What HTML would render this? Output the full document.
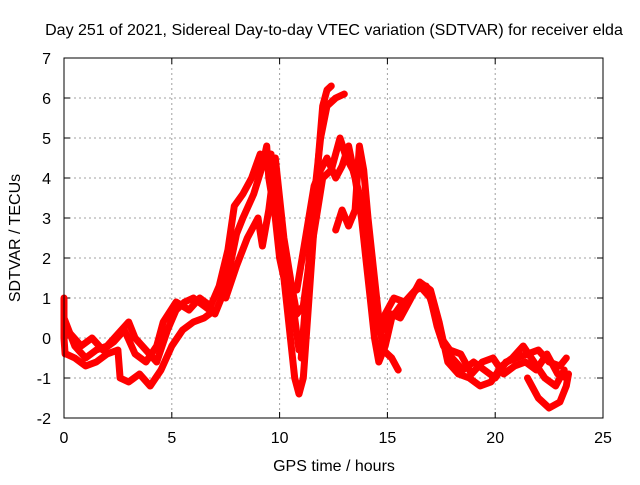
<!DOCTYPE html>
<html><head><meta charset="utf-8"><style>
body{margin:0;background:#fff}
svg text{font-family:"Liberation Sans",sans-serif;font-size:16px;fill:#000}
</style></head><body>
<svg width="640" height="480" xmlns="http://www.w3.org/2000/svg">
<text x="334" y="35" text-anchor="middle">Day 251 of 2021, Sidereal Day-to-day VTEC variation (SDTVAR) for receiver elda</text>
<text x="334" y="471" text-anchor="middle">GPS time / hours</text>
<text transform="translate(20,238) rotate(-90)" text-anchor="middle">SDTVAR / TECUs</text>
<g id="grid"></g>
<g id="ticks"></g>
<g id="series"></g>
<rect x="64" y="58" width="539" height="360" fill="none" stroke="#000"/>
</svg>
<script>
const xTicks=[0,5,10,15,20,25];
const yTicks=[-2,-1,0,1,2,3,4,5,6,7];
const track1=[[0,0.5],[0.5,-0.2],[1,-0.5],[1.5,-0.3],[2,-0.2],[2.5,0.1],[3,0.4],[3.3,0],[3.8,-0.3],[4.3,-0.6],[4.8,0.2],[5.2,0.7],[5.6,0.9],[6,1.0],[6.5,0.8],[7,0.6],[7.3,1.0],[7.7,1.8],[8,2.6],[8.3,3.0],[8.8,3.6],[9.2,4.3],[9.4,4.8],[9.5,4.0],[9.8,3.0],[10,2.0],[10.2,1.5],[10.5,0.0],[10.7,-1.0],[10.9,-1.4],[11.1,-1.0],[11.3,0.5],[11.6,2.8],[11.8,4.5],[12,5.8],[12.2,6.2],[12.4,6.3]];
const track2=[[11.0,-0.5],[11.3,1.5],[11.6,3.5],[11.9,5.0],[12.2,5.8],[12.6,6.0],[13,6.1]];
const track3=[[10.8,1.2],[11.2,2.5],[11.6,3.8],[11.9,4.2],[12.2,4.5],[12.6,4.0],[12.9,4.3],[13.2,4.8],[13.5,4.0],[13.8,3.0],[14,2.0],[14.2,1.0],[14.4,0.0],[14.6,-0.6],[14.9,-0.2],[15.2,0.5],[15.6,0.8],[16,1.0],[16.5,1.3],[17,1.0],[17.3,0.3],[17.6,-0.2],[18,-0.5],[18.5,-0.8],[19,-0.6],[19.5,-0.8],[20,-1.0],[20.5,-0.6],[21,-0.5],[21.5,-0.4],[22,-0.3],[22.5,-0.6],[23,-0.7],[23.3,-0.5]];
const track4=[[12.6,2.7],[12.9,3.2],[13.2,2.8],[13.5,3.2],[13.7,4.8],[13.9,4.2],[14.1,3.0],[14.3,2.0],[14.6,0.5],[14.8,-0.3],[15.2,-0.5],[15.5,-0.8]];
const track5=[[14.8,0.2],[15.2,0.6],[15.6,0.5],[16,0.9],[16.5,1.4],[17,1.2],[17.4,0.4],[17.8,-0.6],[18.3,-0.9],[18.8,-1.0],[19.3,-1.2],[19.8,-1.1],[20.3,-0.7],[20.8,-0.5],[21.3,-0.2],[21.8,-0.6],[22.3,-1.0],[22.8,-1.2],[23.2,-0.8]];
const track6=[[21.5,-1.0],[22,-1.5],[22.5,-1.75],[23,-1.6],[23.3,-1.2],[23.4,-0.9]];
const track7=[[0.1,-0.4],[0.5,-0.5],[1,-0.7],[1.5,-0.6],[2,-0.4],[2.5,-0.3],[2.6,-1.0],[3,-1.1],[3.5,-0.9],[4,-1.2],[4.5,-0.8],[5,-0.2],[5.5,0.2],[6,0.4],[6.5,0.5],[7,0.7]];
const track8=[[7.5,1.0],[8,1.8],[8.5,2.5],[9,3.0],[9.2,2.3],[9.5,3.2],[9.8,4.5],[10,3.5],[10.2,2.5],[10.5,1.5],[10.7,0.5],[10.9,-0.3]];
const track9=[[0,1.0],[0,0.0],[0.05,-0.4]];
const track10=[[0.3,0.1],[0.8,-0.2],[1.3,0.0],[1.8,-0.3],[2.3,-0.1],[2.8,0.2],[3.3,-0.4],[3.8,-0.6],[4.3,-0.2],[4.6,0.4],[5.2,0.9],[5.8,0.7],[6.3,1.0],[6.8,0.8],[7.2,1.3],[7.6,2.2],[7.9,3.3],[8.3,3.6],[8.7,4.0],[9.1,4.6]];
const track11=[[9.6,4.6],[9.9,3.0],[10.1,1.8],[10.4,1.6],[10.6,1.2],[10.8,0.6],[11.1,0.8],[11.4,2.0],[11.7,3.0],[12.0,4.0],[12.4,4.2],[12.8,5.0],[13.1,4.5],[13.4,4.2],[13.7,3.6],[14.0,2.8],[14.3,1.5],[14.6,0.2],[14.9,0.6],[15.3,1.0],[15.8,0.9],[16.3,1.2],[16.8,1.3],[17.1,0.8],[17.5,0.0],[17.9,-0.3],[18.4,-0.4],[18.9,-0.9],[19.4,-0.6],[19.9,-0.5],[20.4,-0.9],[20.9,-0.7],[21.4,-0.6],[21.9,-0.8],[22.4,-0.4],[22.9,-0.9],[23.3,-1.0]];
const tracks=[track1,track2,track3,track4,track5,track6,track7,track8,track9,track10,track11];
const NS="http://www.w3.org/2000/svg";
const X=h=>64+h*539/25, Y=v=>58+(7-v)*40;
const grid=document.getElementById('grid'),ticks=document.getElementById('ticks'),ser=document.getElementById('series');
function mk(t,a,p){const e=document.createElementNS(NS,t);for(const k in a)e.setAttribute(k,a[k]);p.appendChild(e);return e;}
xTicks.forEach(t=>{const x=X(t);
 if(t>0&&t<25){const l=mk('line',{x1:x,x2:x,y1:58,y2:418,stroke:'#a0a0a0','stroke-dasharray':'2,3'},grid);
 
 }
 mk('line',{x1:x,x2:x,y1:418,y2:412,stroke:'#000'},ticks);mk('line',{x1:x,x2:x,y1:58,y2:64,stroke:'#000'},ticks);
 const tx=mk('text',{x:x,y:443,'text-anchor':'middle'},ticks);tx.textContent=t;
 
 });
yTicks.forEach(t=>{const y=Y(t);
 if(t>-2&&t<7){const l=mk('line',{x1:64,x2:603,y1:y,y2:y,stroke:'#a0a0a0','stroke-dasharray':'2,3'},grid);
 
 }
 mk('line',{x1:64,x2:70,y1:y,y2:y,stroke:'#000'},ticks);mk('line',{x1:603,x2:597,y1:y,y2:y,stroke:'#000'},ticks);
 const tx=mk('text',{x:51,y:y+6,'text-anchor':'end'},ticks);tx.textContent=t;
 
 });
tracks.forEach(tr=>{const d=tr.map((p,i)=>(i?'L':'M')+X(p[0]).toFixed(1)+','+Y(p[1]).toFixed(1)).join('');
 const p=mk('path',{d:d,fill:'none',stroke:'#ff0000','stroke-width':7,'stroke-linejoin':'round','stroke-linecap':'round'},ser);
 
 });
</script>
</body></html>
